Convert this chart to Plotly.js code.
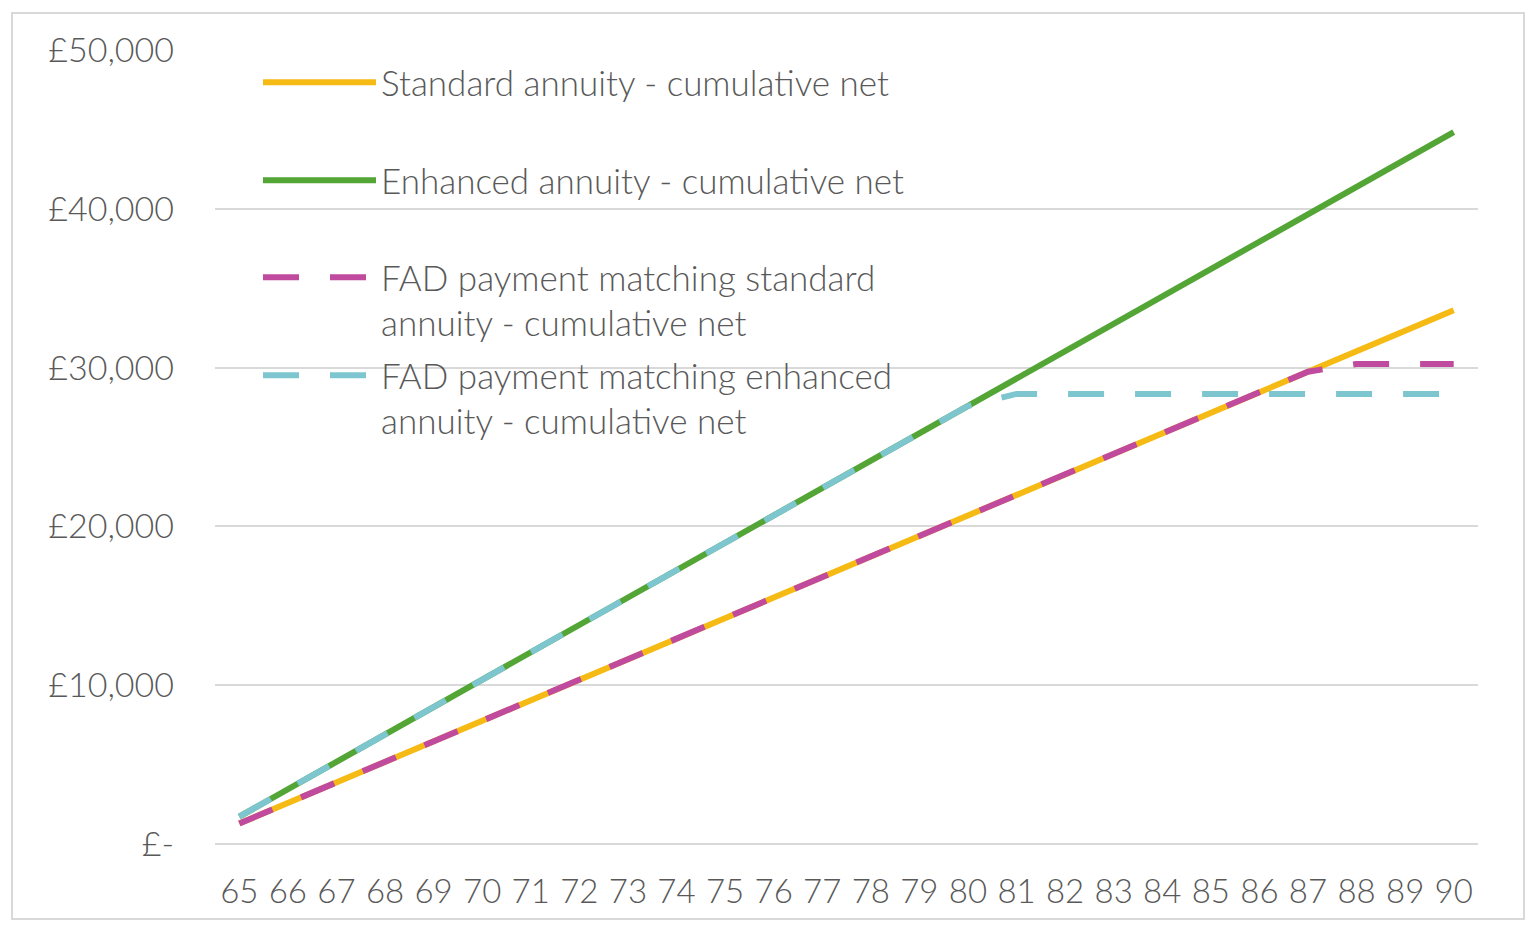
<!DOCTYPE html>
<html>
<head>
<meta charset="utf-8">
<script src="https://cdn.plot.ly/plotly-3.0.1.min.js"></script>
<style>
html,body{margin:0;padding:0;background:#fff;}
#chart{width:1536px;height:945px;}
</style>
</head>
<body>
<div id="chart"></div>
<script>
const ages = [65,66,67,68,69,70,71,72,73,74,75,76,77,78,79,80,81,82,83,84,85,86,87,88,89,90];
const standardAnnuity = [1293,2586,3879,5172,6465,7758,9051,10344,11637,12930,14223,15516,16809,18102,19395,20688,21981,23274,24567,25860,27153,28446,29739,31032,32325,33618];
const enhancedAnnuity = [1724,3448,5172,6896,8620,10344,12068,13792,15516,17240,18964,20688,22412,24136,25860,27584,29308,31032,32756,34480,36204,37928,39652,41376,43100,44824];
const fadStandard = [1293,2586,3879,5172,6465,7758,9051,10344,11637,12930,14223,15516,16809,18102,19395,20688,21981,23274,24567,25860,27153,28446,29739,30230,30230,30230];
const fadEnhanced = [1724,3448,5172,6896,8620,10344,12068,13792,15516,17240,18964,20688,22412,24136,25860,27584,28340,28340,28340,28340,28340,28340,28340,28340,28340,28340];
const seriesNames = [
  "Standard annuity - cumulative net",
  "Enhanced annuity - cumulative net",
  "FAD payment matching standard<br>annuity - cumulative net",
  "FAD payment matching enhanced<br>annuity - cumulative net"
];
const yTickVals = [0,10000,20000,30000,40000,50000];
const yTickText = ["£-","£10,000","£20,000","£30,000","£40,000","£50,000"];

const FONT = "Lato, 'Open Sans', sans-serif";
const TXT = "#595959";
const DASH = "36px,31px";

const traces = [
  {x: ages, y: standardAnnuity, name: seriesNames[0], mode: "lines", legend: "legend",
   line: {color: "#F6BA14", width: 6}},
  {x: ages, y: enhancedAnnuity, name: seriesNames[1], mode: "lines", legend: "legend2",
   line: {color: "#53A535", width: 6}},
  {x: ages, y: fadStandard, name: seriesNames[2], mode: "lines", legend: "legend3",
   line: {color: "#C04A9E", width: 6, dash: DASH}},
  {x: ages, y: fadEnhanced, name: seriesNames[3], mode: "lines", legend: "legend4",
   line: {color: "#7DC6CF", width: 6, dash: DASH}}
];

function leg(top) {
  return {x: (258 - 215) / 1263, xanchor: "left", y: (844 - top) / 794, yanchor: "top", valign: "top",
          bgcolor: "rgba(0,0,0,0)", borderwidth: 0, itemwidth: 113,
          font: {family: FONT, size: 35, color: TXT, weight: 300}, itemclick: false};
}

const layout = {
  width: 1536, height: 945,
  margin: {l: 215, r: 58, t: 50, b: 101},
  paper_bgcolor: "#fff", plot_bgcolor: "#fff",
  font: {family: FONT, size: 35, color: TXT},
  showlegend: true,
  legend: leg(53),
  legend2: leg(151),
  legend3: leg(248),
  legend4: leg(346),
  xaxis: {
    range: [64.5, 90.5], tickmode: "array", tickvals: ages, ticktext: ages.map(String),
    showgrid: false, zeroline: false, showline: false, ticks: "",
    ticklabelstandoff: 25,
    tickfont: {family: FONT, size: 33, color: TXT, weight: 300}
  },
  yaxis: {
    range: [0, 50000], tickmode: "array", tickvals: yTickVals, ticktext: yTickText,
    showgrid: true, gridcolor: "#D9D9D9", gridwidth: 2,
    zeroline: true, zerolinecolor: "#D9D9D9", zerolinewidth: 2,
    showline: false, ticks: "", ticklabelstandoff: 40,
    tickfont: {family: FONT, size: 34, color: TXT, weight: 300}
  },
  shapes: [{
    type: "rect", xref: "paper", yref: "paper",
    x0: (12 - 215) / 1263, x1: (1524 - 215) / 1263,
    y0: (844 - 919) / 794, y1: (844 - 13) / 794,
    line: {color: "#D9D9D9", width: 2}, fillcolor: "rgba(0,0,0,0)", layer: "below"
  }]
};

Plotly.newPlot("chart", traces, layout, {displayModeBar: false, staticPlot: true});
</script>
</body>
</html>
